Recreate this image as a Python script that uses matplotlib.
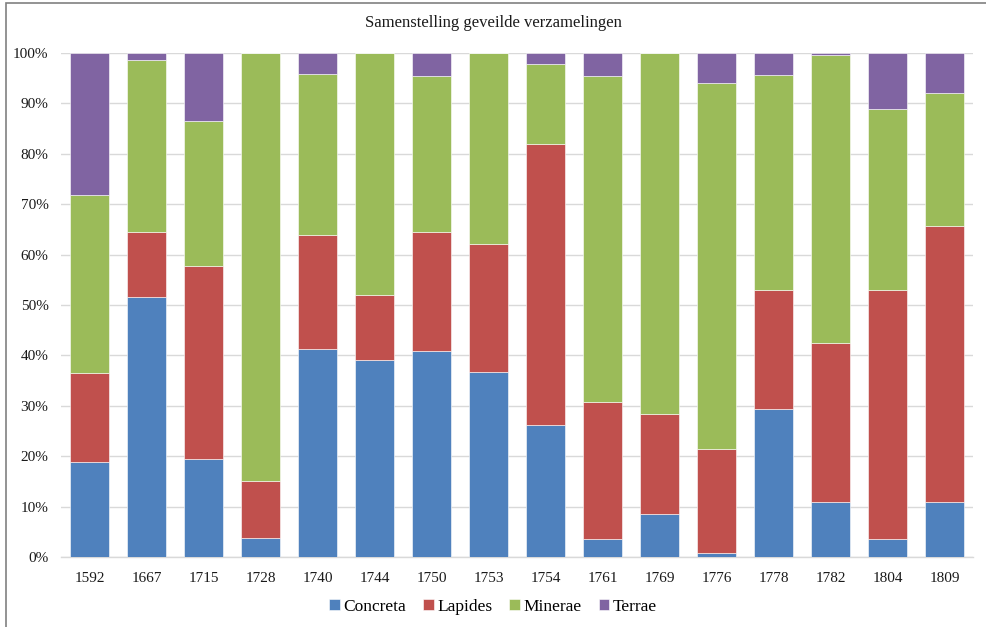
import matplotlib
matplotlib.use("Agg")
import matplotlib.pyplot as plt
import numpy as np
from matplotlib.patches import Rectangle

plt.rcParams['font.family'] = ['Liberation Serif', 'DejaVu Serif']

years = ["1592", "1667", "1715", "1728", "1740", "1744", "1750", "1753",
         "1754", "1761", "1769", "1776", "1778", "1782", "1804", "1809"]
concreta = [18.8, 51.6, 19.4, 3.8, 41.3, 39.1, 40.9, 36.8, 26.1, 3.6, 8.5, 0.8, 29.4, 10.9, 3.6, 10.9]
lapides  = [17.7, 12.9, 38.3, 11.3, 22.6, 12.9, 23.6, 25.4, 55.9, 27.2, 19.9, 20.7, 23.6, 31.6, 49.4, 54.8]
minerae  = [35.3, 34.1, 28.9, 84.9, 31.9, 48.0, 30.9, 37.8, 15.9, 64.6, 71.6, 72.5, 42.6, 57.1, 35.9, 26.4]
terrae   = [28.2, 1.4, 13.4, 0.0, 4.2, 0.0, 4.6, 0.0, 2.1, 4.6, 0.0, 6.0, 4.4, 0.4, 11.1, 7.9]

series = [("Concreta", concreta, "#4F81BD"),
          ("Lapides", lapides, "#C0504D"),
          ("Minerae", minerae, "#9BBB59"),
          ("Terrae", terrae, "#8064A2")]

fig = plt.figure(figsize=(9.86, 6.27), dpi=100)
ax = fig.add_axes([61/986, 1 - 557/627, (973 - 61)/986, (557 - 53)/627])

x = np.arange(len(years))
data = np.array([s[1] for s in series], dtype=float)
totals = data.sum(axis=0)
pct = data / totals * 100
bottom = np.zeros(len(years))
for (name, _, color), vals in zip(series, pct):
    ax.bar(x, vals, bottom=bottom, width=0.68, color=color, label=name,
           edgecolor='white', linewidth=0.4, zorder=3)
    bottom += vals

ax.set_xlim(-0.5, len(years) - 0.5)
ax.set_ylim(0, 100)
ax.set_yticks(np.arange(0, 101, 10))
ax.set_yticklabels([f"{v}%" for v in range(0, 101, 10)])
ax.set_xticks(x)
ax.set_xticklabels(years)
ax.tick_params(axis='both', length=0, labelsize=11, colors='#1a1a1a')
ax.tick_params(axis='x', pad=11)
ax.tick_params(axis='y', pad=9)
ax.grid(axis='y', color='#D9D9D9', linewidth=1.0, zorder=0)
for side in ['top', 'right', 'left']:
    ax.spines[side].set_visible(False)
ax.spines['bottom'].set_color('#D9D9D9')
ax.spines['bottom'].set_linewidth(1.0)

fig.text(0.5, 1 - 23/627, "Samenstelling geveilde verzamelingen",
         ha='center', va='center', fontsize=12, color='#1a1a1a')

fig.legend(loc='center', bbox_to_anchor=(0.5, 1 - 607/627), ncol=4, frameon=False,
           fontsize=12.5, handlelength=0.6, handleheight=0.6, handletextpad=0.2,
           columnspacing=1.0)

# outer chart border (top and left visible)
fig.patches.append(Rectangle((6/986, -0.1), 1.2, 1 - 3/627 + 0.1,
                             transform=fig.transFigure, fill=False,
                             edgecolor='#808080', linewidth=1.2))

fig.savefig("out.png", dpi=100)
